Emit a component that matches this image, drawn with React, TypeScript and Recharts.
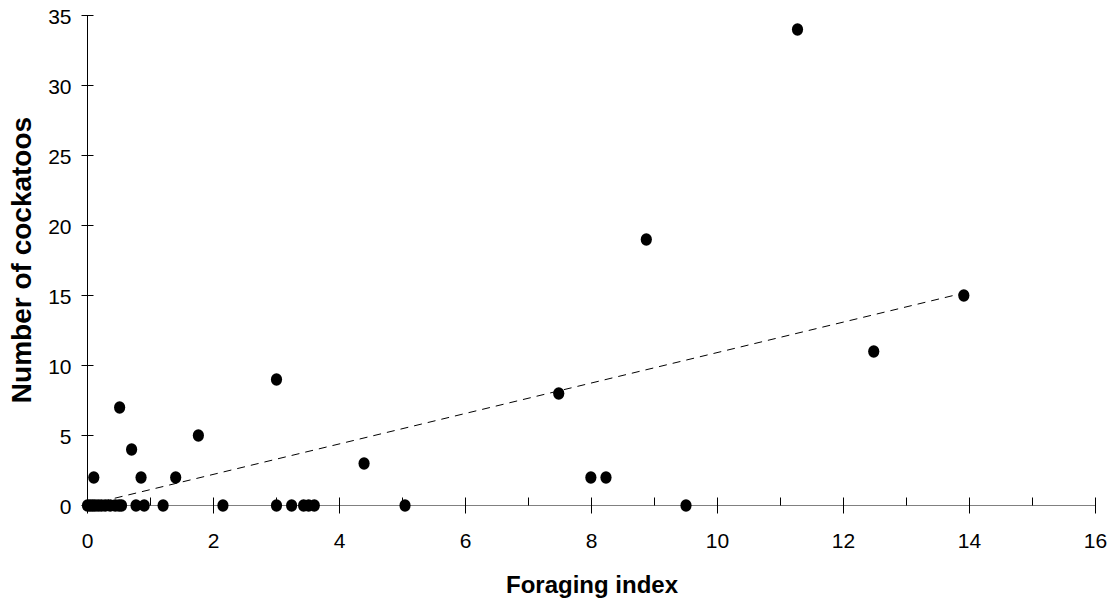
import { Scatter, ScatterChart, XAxis, YAxis } from "recharts"

// foraging index (x) and number of cockatoos (y) for each site
const foragingIndex = [
  0, 0.04, 0.08, 0.12, 0.17, 0.22, 0.28, 0.36, 0.44, 0.5, 0.54, 0.77, 0.9, 1.2,
  2.15, 3.0, 3.24, 3.43, 3.51, 3.6, 5.04, 9.5,
  0.1, 0.51, 0.7, 0.85, 1.4, 1.76, 3.0, 4.39, 7.48, 7.99, 8.23, 8.87, 11.27, 12.48, 13.91,
]
const cockatoos = [
  0, 0, 0, 0, 0, 0, 0, 0, 0, 0, 0, 0, 0, 0,
  0, 0, 0, 0, 0, 0, 0, 0,
  2, 7, 4, 2, 2, 5, 9, 3, 8, 2, 2, 19, 34, 11, 15,
]

// fitted trend line end points
const trendX = [0, 13.9]
const trendY = [0.05, 15.17]

const xTicks = [0, 1, 2, 3, 4, 5, 6, 7, 8, 9, 10, 11, 12, 13, 14, 15, 16]
const yTicks = [0, 5, 10, 15, 20, 25, 30, 35]

const points = foragingIndex.map((x, i) => ({ x, y: cockatoos[i] }))
const trend = trendX.map((x, i) => ({ x, y: trendY[i] }))

const FONT = '"Liberation Sans", Arial, sans-serif'

const XTick = ({ x, y, payload }: any) => {
  const major = payload.value % 2 === 0
  return (
    <g>
      <line x1={x} x2={x} y1={y - 8} y2={major ? y + 8 : y} stroke="#000" />
      {major && (
        <text x={x} y={y + 42} textAnchor="middle" fontSize={21} fontFamily={FONT} fill="#000">
          {payload.value}
        </text>
      )}
    </g>
  )
}

const YTick = ({ x, y, payload }: any) => (
  <g>
    <line x1={x - 6} x2={x + 6} y1={y} y2={y} stroke="#000" />
    <text x={x - 16} y={y + 8} textAnchor="end" fontSize={21} fontFamily={FONT} fill="#000">
      {payload.value}
    </text>
  </g>
)

const Dot = ({ cx, cy }: any) => <ellipse cx={cx} cy={cy} rx={5.6} ry={6.2} fill="#000" />

export default function App() {
  return (
    <div style={{ position: "absolute", left: 0, top: 0, background: "#fff" }}>
      <ScatterChart width={1115} height={607} margin={{ top: 15.5, right: 19.5, left: 0.5, bottom: 0 }}>
        <XAxis
          type="number"
          dataKey="x"
          domain={[0, 16]}
          ticks={xTicks}
          interval={0}
          tickSize={0}
          tickMargin={0}
          height={101.5}
          axisLine={{ stroke: "#808080" }}
          tick={<XTick />}
          label={{
            content: () => (
              <text x={592} y={593} textAnchor="middle" fontSize={24} fontWeight="bold" fontFamily={FONT} fill="#000">
                Foraging index
              </text>
            ),
          }}
        />
        <YAxis
          type="number"
          dataKey="y"
          domain={[0, 35]}
          ticks={yTicks}
          interval={0}
          tickSize={0}
          tickMargin={0}
          width={87}
          axisLine={{ stroke: "#000" }}
          tick={<YTick />}
          label={{
            content: () => (
              <text
                transform="translate(31,260) rotate(-90)"
                textAnchor="middle"
                fontSize={28}
                fontWeight="bold"
                fontFamily={FONT}
                fill="#000"
              >
                Number of cockatoos
              </text>
            ),
          }}
        />
        <Scatter
          data={trend}
          line={{ stroke: "#000", strokeWidth: 1, strokeDasharray: "8 6" }}
          shape={() => <g />}
          isAnimationActive={false}
        />
        <Scatter data={points} shape={<Dot />} isAnimationActive={false} />
      </ScatterChart>
    </div>
  )
}
